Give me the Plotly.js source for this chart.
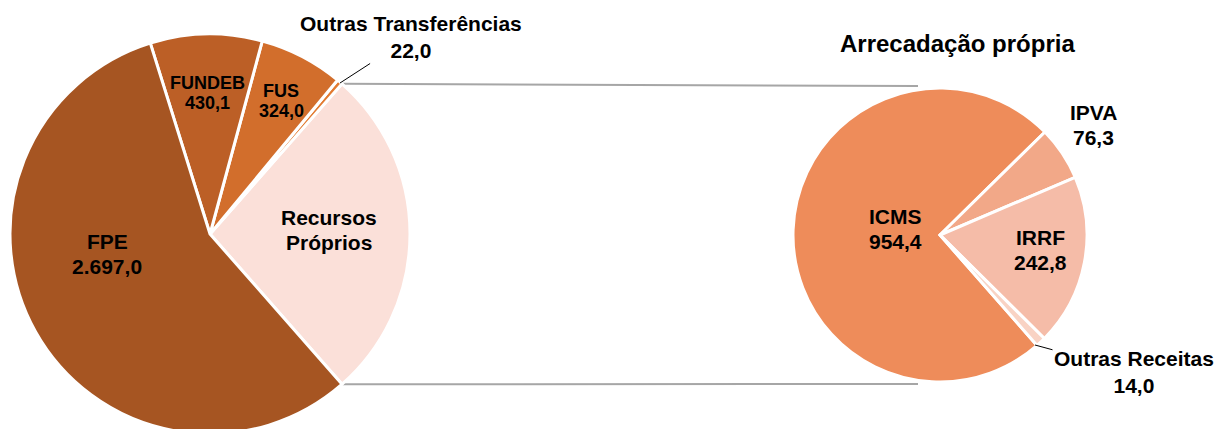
<!DOCTYPE html>
<html>
<head>
<meta charset="utf-8">
<script src="https://cdn.plot.ly/plotly-3.0.1.min.js"></script>
<style>
  html, body { margin: 0; padding: 0; background: #fff; overflow: hidden; }
  #chart { width: 1230px; height: 440px; }
</style>
</head>
<body>
<div id="chart"></div>
<script>
// Receitas (R$ milhões)
const leftLabels = ['Recursos Próprios', 'Outras Transferências', 'FUS', 'FUNDEB', 'FPE'];
const leftColors = ['#FBE0D9', '#E27A30', '#D26E2C', '#BC5F26', '#A65522'];
const rightLabels = ['ICMS', 'IPVA', 'IRRF', 'Outras Receitas'];
const rightValues = [954.4, 76.3, 242.8, 14.0];
const rightColors = ['#EE8C5A', '#F2A888', '#F5BCA8', '#F9D3C4'];
const transfers = [22.0, 324.0, 430.1, 2697.0];

const ownTotal = rightValues.reduce((a, b) => a + b, 0);
const leftValues = [ownTotal, ...transfers];
const leftTotal = leftValues.reduce((a, b) => a + b, 0);
const halfAngle = (ownTotal / leftTotal) * 180;

const W = 1230;
const H = 440;
const px = (x) => x / W;
const py = (y) => (H - y) / H;

function fmt(v) {
  const [i, d] = v.toFixed(1).split('.');
  return i.replace(/\B(?=(\d{3})+(?!\d))/g, '.') + ',' + d;
}

// pie geometry in pixels
const leftPie = { cx: 210, cy: 234, r: 200 };
const rightPie = { cx: 940, cy: 235, r: 147 };

const font = { family: 'Liberation Sans, Arial, sans-serif', color: '#000', size: 21 };

const traces = [
  {
    type: 'pie',
    labels: leftLabels,
    values: leftValues,
    sort: false,
    direction: 'counterclockwise',
    rotation: 90 - halfAngle,
    marker: { colors: leftColors, line: { color: '#fff', width: 3 } },
    textinfo: 'none',
    domain: { x: [px(leftPie.cx - leftPie.r), px(leftPie.cx + leftPie.r)], y: [py(leftPie.cy + leftPie.r), py(leftPie.cy - leftPie.r)] },
    hovertemplate: '%{label}: %{value:.1f}<extra></extra>',
  },
  {
    type: 'pie',
    labels: rightLabels,
    values: rightValues,
    sort: false,
    direction: 'clockwise',
    rotation: 90 + halfAngle,
    marker: { colors: rightColors, line: { color: '#fff', width: 3 } },
    textinfo: 'none',
    domain: { x: [px(rightPie.cx - rightPie.r), px(rightPie.cx + rightPie.r)], y: [py(rightPie.cy + rightPie.r), py(rightPie.cy - rightPie.r)] },
    hovertemplate: '%{label}: %{value:.1f}<extra></extra>',
  },
];

// two-line labels inside slices: one annotation per line, tighter spacing than Plotly's <br>
const inside = [
  { lines: ['FPE', fmt(transfers[3])], x: 107, y: 254 },
  { lines: ['FUNDEB', fmt(transfers[2])], x: 207, y: 93, size: 18 },
  { lines: ['FUS', fmt(transfers[1])], x: 281, y: 101, size: 18 },
  { lines: ['Recursos', 'Próprios'], x: 329, y: 230 },
  { lines: ['ICMS', fmt(rightValues[0])], x: 895, y: 229 },
  { lines: ['IPVA', fmt(rightValues[1])], x: 1093, y: 125 },
  { lines: ['IRRF', fmt(rightValues[2])], x: 1040, y: 250 },
];

const notes = [];
inside.forEach((a) => {
  const size = a.size || font.size;
  const gap = size * 1.15;
  a.lines.forEach((t, k) => {
    notes.push({ text: `<b>${t}</b>`, x: a.x, y: a.y + (k - 0.5) * gap, size });
  });
});
notes.push(
  { text: `<b>Outras Transferências<br>${fmt(transfers[0])}</b>`, x: 340, y: 83, ax: 71, ay: -46 },
  { text: `<b>Outras Receitas<br>${fmt(rightValues[3])}</b>`, x: 1035, y: 345, ax: 99, ay: 27 },
  { text: '<b>Arrecadação própria</b>', x: 958, y: 43, size: 24 },
);

const annotations = notes.map((a) => ({
  text: a.text,
  x: px(a.x),
  y: py(a.y),
  xref: 'paper',
  yref: 'paper',
  xanchor: 'center',
  yanchor: 'middle',
  showarrow: a.ax !== undefined,
  ax: a.ax || 0,
  ay: a.ay || 0,
  arrowhead: 0,
  arrowwidth: 1,
  arrowcolor: '#000',
  align: 'center',
  font: { ...font, size: a.size || font.size },
}));

// connector lines from the corners of "Recursos Próprios" to the second pie
const rad = (halfAngle * Math.PI) / 180;
const cornerX = leftPie.cx + leftPie.r * Math.cos(rad);
const topY = leftPie.cy - leftPie.r * Math.sin(rad);
const botY = leftPie.cy + leftPie.r * Math.sin(rad);
const shapes = [
  [cornerX, topY, 918, rightPie.cy - rightPie.r - 2],
  [cornerX, botY, 918, rightPie.cy + rightPie.r + 2],
].map(([x0, y0, x1, y1]) => ({
  type: 'line',
  xref: 'paper',
  yref: 'paper',
  x0: px(x0), y0: py(y0), x1: px(x1), y1: py(y1),
  line: { color: '#A6A6A6', width: 2 },
  layer: 'below',
}));

Plotly.newPlot('chart', traces, {
  width: W,
  height: H,
  margin: { l: 0, r: 0, t: 0, b: 0 },
  paper_bgcolor: '#fff',
  showlegend: false,
  annotations,
  shapes,
}, { displayModeBar: false, staticPlot: true });
</script>
</body>
</html>
